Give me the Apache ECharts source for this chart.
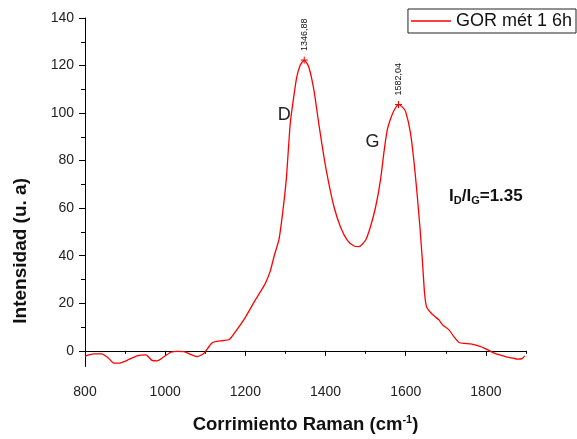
<!DOCTYPE html>
<html>
<head>
<meta charset="utf-8">
<script src="https://cdn.jsdelivr.net/npm/echarts@6/dist/echarts.min.js"></script>
<style>
  html, body { margin: 0; padding: 0; background: #fff; }
  #chart { width: 577px; height: 439px; }
</style>
</head>
<body>
<div id="chart"></div>
<script>
// Raman spectrum of sample "GOR mét 1 6h"
const seriesName = 'GOR mét 1 6h';

const ramanShift = [800, 812, 822, 842, 858, 872, 885, 905, 930, 952, 967, 980, 997, 1014, 1030, 1047,
  1064, 1080, 1097, 1108, 1118, 1130, 1145, 1160, 1175, 1196, 1210, 1225, 1240, 1250, 1262, 1272,
  1284, 1293, 1302, 1312, 1320, 1328, 1337, 1346.88, 1358, 1371, 1383, 1396, 1408, 1421, 1437,
  1454, 1471, 1483, 1500, 1512, 1525, 1537, 1546, 1554, 1562, 1572, 1582.04, 1592, 1600, 1612,
  1621, 1629, 1636, 1642, 1647, 1652, 1662, 1672, 1683, 1692, 1708, 1720, 1733, 1747, 1762,
  1787, 1805, 1821, 1838, 1854, 1868, 1879, 1890, 1897];

const intensity = [-2.2, -1.6, -1.3, -1.3, -3, -5.2, -5.2, -4, -2.1, -1.7, -4, -4.2, -2.5, -0.6, -0.2, -0.3,
  -1.6, -2.4, -1, 1.5, 3.5, 4, 4.3, 4.8, 8, 13, 17, 21.4, 25.5, 28.4, 33.5, 40,
  47, 58, 72, 95.7, 106, 115, 120.2, 122.3, 119.5, 109.7, 95.7, 81.6, 70.5, 60.6, 52.2,
  46.6, 44.1, 43.8, 46.6, 52.2, 60.6, 71.8, 84, 92.9, 97.5, 101.5, 103.6, 102.5, 100.5, 91.5,
  78.9, 64.8, 50.8, 36.8, 24.2, 18.5, 16.1, 14.5, 13, 10.9, 8.8, 6, 3.5, 3.1, 2.9,
  1.8, 0.4, -1, -1.9, -2.7, -3.1, -3.5, -3.3, -2.1];

// Labelled band maxima
const peakShift = [1346.88, 1582.04];
const peakIntensity = [122.3, 103.6];

// Band names and their label anchors (data units)
const bandNames = ['D', 'G'];
const bandLabelAt = [[1297, 99], [1517, 88]];
const ratioText = '{b|I}{s|D}{b|/I}{s|G}{b|=1.35}';
const ratioAt = [1800, 65];

// Axis ticks
const xMajor = [800, 1000, 1200, 1400, 1600, 1800];
const xMinor = [900, 1100, 1300, 1500, 1700, 1900];
const yMajor = [0, 20, 40, 60, 80, 100, 120, 140];
const yMinor = [10, 30, 50, 70, 90, 110, 130];

const FONT = 'Liberation Sans, Arial, sans-serif';
const X_MIN = 800, X_MAX = 1900, Y_MIN = -6.6, Y_MAX = 140;

const chart = echarts.init(document.getElementById('chart'), null, { renderer: 'canvas' });

const baseX = {
  type: 'value', min: X_MIN, max: X_MAX, position: 'bottom',
  splitLine: { show: false }
};
const baseY = {
  type: 'value', min: Y_MIN, max: Y_MAX, position: 'left',
  splitLine: { show: false }
};

chart.setOption({
  backgroundColor: '#ffffff',
  animation: false,
  textStyle: { fontFamily: FONT },
  grid: { left: 85, right: 51, top: 18, bottom: 72, containLabel: false },
  legend: {
    data: [seriesName],
    icon: 'rect',
    right: 1, top: 9,
    padding: [3, 4, 3, 3],
    borderColor: '#222', borderWidth: 1,
    itemWidth: 40, itemHeight: 1.5,
    itemGap: 6,
    textStyle: { fontFamily: FONT, fontSize: 18, color: '#111' }
  },
  xAxis: [
    Object.assign({}, baseX, {
      name: 'Corrimiento Raman (cm{sup|-1})',
      nameLocation: 'middle', nameGap: 48,
      nameTextStyle: {
        fontFamily: FONT, fontSize: 18.5, fontWeight: 'bold', color: '#111',
        rich: { sup: { fontFamily: FONT, fontSize: 11, fontWeight: 'bold', color: '#111', verticalAlign: 'top', padding: [0, 0, 9, 0] } }
      },
      axisLine: { show: true, lineStyle: { color: '#000', width: 1 } },
      axisTick: { show: true, inside: false, length: 5, customValues: xMajor, lineStyle: { color: '#000' } },
      axisLabel: {
        show: true, customValues: xMajor, margin: 19, fontFamily: FONT, fontSize: 14, color: '#222',
        formatter: (v) => String(v)
      }
    }),
    Object.assign({}, baseX, {
      axisLine: { show: false },
      axisTick: { show: true, inside: false, length: 3, customValues: xMinor, lineStyle: { color: '#000' } },
      axisLabel: { show: false }
    })
  ],
  yAxis: [
    Object.assign({}, baseY, {
      axisLine: { show: true, lineStyle: { color: '#000', width: 1 } },
      axisTick: { show: true, inside: false, length: 6, customValues: yMajor, lineStyle: { color: '#000' } },
      axisLabel: {
        show: true, customValues: yMajor, margin: 11, fontFamily: FONT, fontSize: 14, color: '#222',
        formatter: (v) => String(v)
      }
    }),
    Object.assign({}, baseY, {
      axisLine: { show: false },
      axisTick: { show: true, inside: false, length: 4, customValues: yMinor, lineStyle: { color: '#000' } },
      axisLabel: { show: false }
    })
  ],
  graphic: [{
    type: 'text',
    left: 11, top: 178,
    rotation: Math.PI / 2,
    style: {
      text: 'Intensidad (u. a)',
      font: 'bold 19px ' + FONT,
      fill: '#111'
    }
  }],
  series: [{
    name: seriesName,
    type: 'line',
    xAxisIndex: 0, yAxisIndex: 0,
    data: ramanShift.map((x, i) => [x, intensity[i]]),
    symbol: 'none',
    showSymbol: false,
    smooth: 0.2,
    color: '#ff0000',
    lineStyle: { color: '#ff0000', width: 1.3 },
    markPoint: {
      silent: true,
      data: [
        ...peakShift.map((x, i) => ({
          coord: [x, peakIntensity[i]],
          value: x,
          symbol: 'path://M0,5L10,5M5,0L5,10',
          symbolSize: 7,
          itemStyle: { color: 'none', borderColor: '#ff0000', borderWidth: 1 },
          label: {
            show: true, position: 'top', distance: 3,
            rotate: 90, align: 'left', verticalAlign: 'middle',
            fontFamily: FONT, fontSize: 9, color: '#111',
            formatter: (p) => p.value.toFixed(2).replace('.', ',')
          }
        })),
        ...bandNames.map((n, i) => ({
          coord: bandLabelAt[i],
          symbol: 'circle', symbolSize: 0,
          label: {
            show: true, position: 'inside',
            fontFamily: FONT, fontSize: 18, color: '#222',
            formatter: n
          }
        })),
        {
          coord: ratioAt,
          symbol: 'circle', symbolSize: 0,
          label: {
            show: true, position: 'inside',
            formatter: ratioText,
            rich: {
              b: { fontFamily: FONT, fontSize: 17, fontWeight: 'bold', color: '#111' },
              s: { fontFamily: FONT, fontSize: 11, fontWeight: 'bold', color: '#111', verticalAlign: 'bottom', padding: [10, 0, 0, 0] }
            }
          }
        }
      ]
    }
  }]
});
</script>
</body>
</html>
